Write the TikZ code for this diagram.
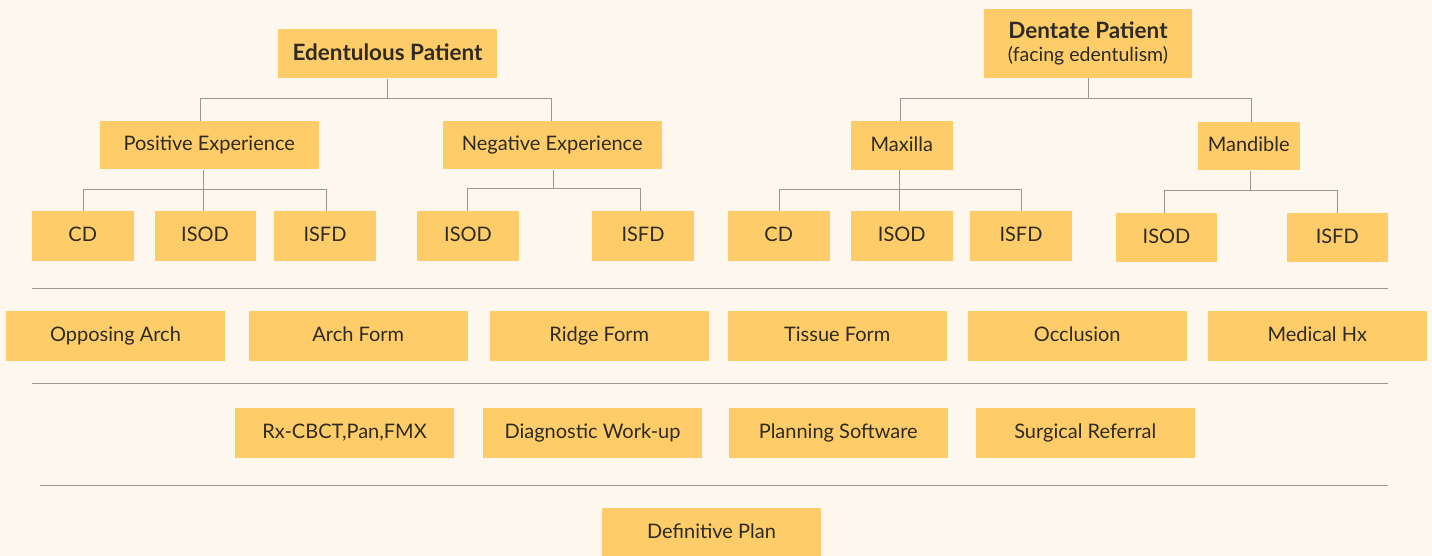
\documentclass[tikz,border=0pt]{standalone}
\usepackage{fontspec}
\setmainfont{Lato}
\definecolor{bg}{HTML}{FEF7EE}
\definecolor{boxc}{HTML}{FECD69}
\definecolor{linec}{HTML}{9B9893}
\definecolor{txt}{HTML}{2E2A24}
\tikzset{
  boxbase/.style={fill=boxc, draw=none, inner sep=0pt, text=txt, align=center},
  box/.style={boxbase, font=\fontsize{20}{24}\selectfont, text height=14.4pt, text depth=3pt},
  conn/.style={draw=linec, line width=1pt},
  sep/.style={draw=linec, line width=1.1pt},
}
\newcommand{\bx}[6]{% name, x1, y1, x2, y2, text
  \node[box, minimum width={#4-#2}, minimum height={#5-#3}] (#1) at ({(#2+#4)/2},{(#3+#5)/2}) {#6};}
\begin{document}
\begin{tikzpicture}[x=1pt,y=-1pt]
\fill[bg] (0,0) rectangle (1432,556);
\useasboundingbox (0,0) rectangle (1432,556);
% row 1
\node[box, minimum width=219, minimum height=49.5, font=\bfseries\fontsize{22.5}{24}\selectfont, text height=16pt, text depth=2pt] (ed) at (387.5,53.75) {Edentulous Patient};
\node[boxbase, minimum width=208, minimum height=68.5, font=\fontsize{19.5}{23}\selectfont] (dp) at (1088,43.3) {{\bfseries\fontsize{22.5}{23}\selectfont Dentate Patient}\\(facing edentulism)};
% row 2
\bx{pos}{100}{121}{318.5}{169.5}{Positive Experience}
\bx{neg}{443}{121}{661.5}{169.5}{Negative Experience}
\bx{max}{851}{121}{952.5}{170}{Maxilla}
\bx{man}{1198}{122}{1299.5}{170.5}{Mandible}
% row 3
\bx{pcd}{32}{211.5}{133.5}{260.5}{CD}
\bx{pisod}{154.5}{211.5}{255.5}{260.5}{ISOD}
\bx{pisfd}{274}{211}{376}{260.5}{ISFD}
\bx{nisod}{417}{211}{519}{260.5}{ISOD}
\bx{nisfd}{592}{211}{694}{260.5}{ISFD}
\bx{mcd}{728}{211}{829.5}{260.5}{CD}
\bx{misod}{851}{211}{952.5}{260.5}{ISOD}
\bx{misfd}{970}{211}{1072}{260.5}{ISFD}
\bx{disod}{1116}{213}{1217}{262}{ISOD}
\bx{disfd}{1286.5}{213}{1388}{262}{ISFD}
% row 4
\bx{r1}{6}{311}{225}{360.5}{Opposing Arch}
\bx{r2}{249}{311}{467.5}{360.5}{Arch Form}
\bx{r3}{490}{311}{708.5}{360.5}{Ridge Form}
\bx{r4}{728}{311}{946.5}{360.5}{Tissue Form}
\bx{r5}{968}{311}{1186.5}{360.5}{Occlusion}
\bx{r6}{1208}{311}{1426.5}{360.5}{Medical Hx}
% row 5
\bx{s1}{235}{408}{454}{457.5}{Rx-CBCT,Pan,FMX}
\bx{s2}{483}{408}{702}{457.5}{Diagnostic Work-up}
\bx{s3}{729}{408}{947.5}{457.5}{Planning Software}
\bx{s4}{976}{408}{1194.5}{457.5}{Surgical Referral}
% row 6
\bx{dplan}{602}{508}{821}{557}{Definitive Plan}
% buses
\coordinate (b1) at (0,98.5);
\coordinate (b2) at (0,189.5);
\coordinate (b3) at (0,188.5);
\coordinate (b4) at (0,189.5);
\coordinate (b5) at (0,190.5);
% edentulous
\draw[conn] (ed.south) -- (ed.south |- b1);
\draw[conn] ([xshift=-9]pos.north) -- ([xshift=-9]pos.north |- b1) -- ([xshift=-1]neg.north |- b1) -- ([xshift=-1]neg.north);
% dentate
\draw[conn] (dp.south) -- (dp.south |- b1);
\draw[conn] ([xshift=-1.5]max.north) -- ([xshift=-1.5]max.north |- b1) -- ([xshift=3]man.north |- b1) -- ([xshift=3]man.north);
% positive
\draw[conn] ([xshift=-5.5]pos.south) -- ([xshift=-5.5]pos.south |- pisod.north);
\draw[conn] ([xshift=0.6]pcd.north) -- ([xshift=0.6]pcd.north |- b2) -- ([xshift=1.3]pisfd.north |- b2) -- ([xshift=1.3]pisfd.north);
% negative
\draw[conn] ([xshift=1]neg.south) -- ([xshift=1]neg.south |- b3);
\draw[conn] ([xshift=-0.7]nisod.north) -- ([xshift=-0.7]nisod.north |- b3) -- ([xshift=-2.7]nisfd.north |- b3) -- ([xshift=-2.7]nisfd.north);
% maxilla
\draw[conn] ([xshift=-2.5]max.south) -- ([xshift=-2.5]max.south |- misod.north);
\draw[conn] ([xshift=0.3]mcd.north) -- ([xshift=0.3]mcd.north |- b4) -- ([xshift=0.7]misfd.north |- b4) -- ([xshift=0.7]misfd.north);
% mandible
\draw[conn] ([xshift=2]man.south) -- ([xshift=2]man.south |- b5);
\draw[conn] ([xshift=-2.2]disod.north) -- ([xshift=-2.2]disod.north |- b5) -- ([xshift=0.5]disfd.north |- b5) -- ([xshift=0.5]disfd.north);
% separators
\draw[sep] (32,288.5) -- (1388,288.5);
\draw[sep] (32,383.5) -- (1388,383.5);
\draw[sep] (40,485.5) -- (1388,485.5);
\end{tikzpicture}
\end{document}
